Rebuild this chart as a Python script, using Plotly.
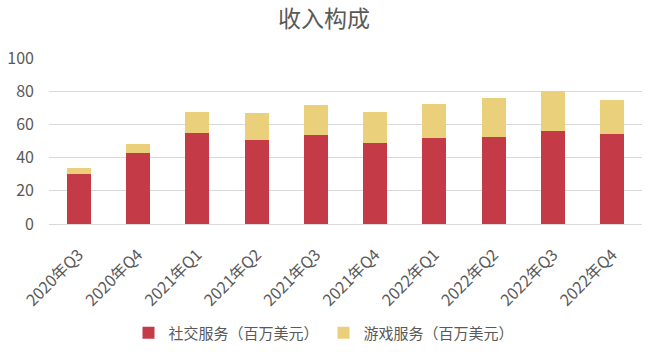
import plotly.graph_objects as go

categories = ["2020年Q3", "2020年Q4", "2021年Q1", "2021年Q2", "2021年Q3",
              "2021年Q4", "2022年Q1", "2022年Q2", "2022年Q3", "2022年Q4"]
social = [30.0, 42.6, 54.6, 50.4, 53.4, 48.6, 51.6, 52.2, 55.8, 54.0]
games = [3.6, 5.4, 12.6, 16.2, 18.0, 18.6, 20.4, 24.0, 24.2, 21.0]

FONT = "Noto Sans CJK SC"
fig = go.Figure()
fig.add_trace(go.Bar(x=categories, y=social, name="社交服务（百万美元）",
                     marker=dict(color="#C53A47", line=dict(width=0))))
fig.add_trace(go.Bar(x=categories, y=games, name="游戏服务（百万美元）",
                     marker=dict(color="#EBD07B", line=dict(width=0))))

fig.update_layout(
    barmode="stack",
    bargap=0.595,
    width=648, height=352,
    margin=dict(l=49, r=6, t=58, b=127),
    paper_bgcolor="white", plot_bgcolor="white",
    font=dict(family=FONT, color="#595959", size=15),
    title=dict(text="收入构成", x=0.5, xref="container", xanchor="center",
               y=0.97, yanchor="top",
               font=dict(size=23, color="#595959", family=FONT)),
    legend=dict(orientation="h", xref="container", x=0.5, xanchor="center",
                yref="container", y=0.054, yanchor="middle",
                font=dict(size=15, color="#595959"), itemwidth=30,
                traceorder="normal", entrywidthmode="pixels"),
    showlegend=True,
)
fig.update_xaxes(tickangle=-45, showgrid=False, showline=True, linecolor="#d9d9d9",
                 ticks="", ticklabelstandoff=14,
                 tickfont=dict(size=16, color="#595959"))
fig.update_yaxes(range=[0, 100], dtick=20, showgrid=True, gridcolor="#d9d9d9",
                 zeroline=False, showline=False, ticks="", ticklabelstandoff=14,
                 tickfont=dict(size=16, color="#595959"))
fig.write_html("out.html")
